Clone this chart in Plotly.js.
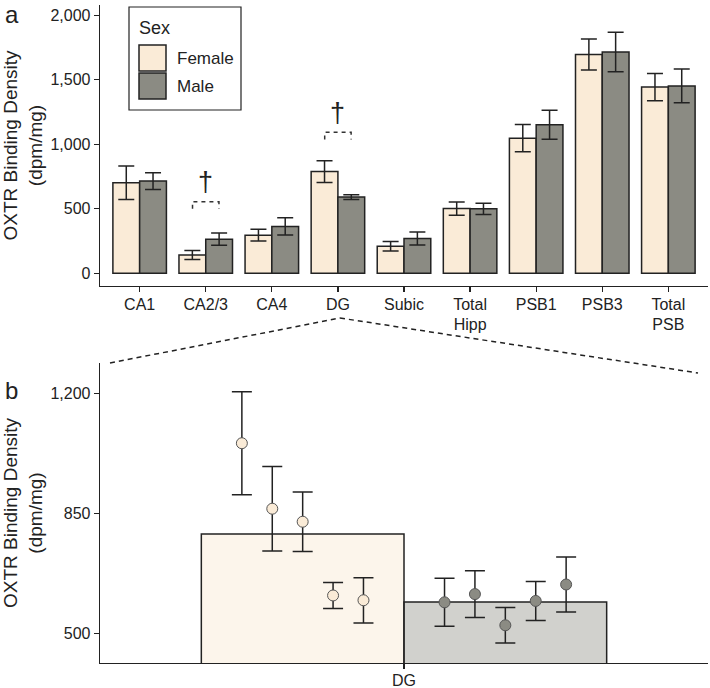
<!DOCTYPE html>
<html>
<head>
<meta charset="utf-8">
<script src="https://cdn.plot.ly/plotly-3.0.1.min.js"></script>
<style>html,body{margin:0;padding:0;background:#fff;}#chart{width:710px;height:688px;}</style>
</head>
<body>
<div id="chart"></div>
<script>
// ---- Data (panel a) ----
const regions = ['CA1', 'CA2/3', 'CA4', 'DG', 'Subic', 'Total<br>Hipp', 'PSB1', 'PSB3', 'Total<br>PSB'];
const femaleMean = [702, 143, 296, 789, 210, 502, 1048, 1696, 1444];
const femaleErr  = [130, 35, 46, 84, 37, 52, 106, 120, 106];
const maleMean   = [715, 265, 364, 591, 270, 500, 1152, 1715, 1453];
const maleErr    = [65, 48, 67, 18, 50, 43, 113, 153, 130];
const sigRegions = ['CA2/3', 'DG'];
const sigLevel   = [555, 1093];
const sigMark    = '†';

// ---- Data (panel b: DG individual animals) ----
const dgFemaleVals = [1054, 863, 825, 610, 596];
const dgFemaleErr  = [150, 123, 87, 38, 66];
const dgMaleVals   = [590, 614, 523, 594, 642];
const dgMaleErr    = [70, 68, 52, 57, 80];

const sexLabels = ['Female', 'Male'];
const femaleColor = '#FAEBD7';
const maleColor = '#8B8B83';
const ink = '#222222';
const FONT = 'Arial, "Liberation Sans", sans-serif';

const W = 710, H = 688;
const px = x => x / W;
const py = y => 1 - y / H;

const xIdx = regions.map((_, i) => i);
const dgIdx = regions.indexOf('DG');

const traces = [
  {
    type: 'bar', x: xIdx, y: femaleMean, name: sexLabels[0],
    marker: {color: femaleColor, line: {color: ink, width: 1.5}},
    error_y: {type: 'data', array: femaleErr, visible: true, color: ink, thickness: 1.5, width: 8},
    xaxis: 'x', yaxis: 'y', showlegend: false, hoverinfo: 'skip'
  },
  {
    type: 'bar', x: xIdx, y: maleMean, name: sexLabels[1],
    marker: {color: maleColor, line: {color: ink, width: 1.5}},
    error_y: {type: 'data', array: maleErr, visible: true, color: ink, thickness: 1.5, width: 8},
    xaxis: 'x', yaxis: 'y', showlegend: false, hoverinfo: 'skip'
  },
  // panel b bars (group means of DG)
  {
    type: 'bar', x: [-0.5], y: [femaleMean[dgIdx]], width: [1], base: 0,
    marker: {color: 'rgba(250,235,215,0.5)', line: {color: ink, width: 1.5}},
    xaxis: 'x2', yaxis: 'y2', showlegend: false, hoverinfo: 'skip'
  },
  {
    type: 'bar', x: [0.5], y: [maleMean[dgIdx]], width: [1], base: 0,
    marker: {color: 'rgba(139,139,131,0.4)', line: {color: ink, width: 1.5}},
    xaxis: 'x2', yaxis: 'y2', showlegend: false, hoverinfo: 'skip'
  },
  {
    type: 'scatter', mode: 'markers',
    x: dgFemaleVals.map((_, i) => -0.5 + (i - 2) * 0.15), y: dgFemaleVals,
    marker: {size: 11, color: femaleColor, line: {color: '#555', width: 1}},
    error_y: {type: 'data', array: dgFemaleErr, visible: true, color: ink, thickness: 1.5, width: 10},
    xaxis: 'x2', yaxis: 'y2', showlegend: false, hoverinfo: 'skip'
  },
  {
    type: 'scatter', mode: 'markers',
    x: dgMaleVals.map((_, i) => 0.5 + (i - 2) * 0.15), y: dgMaleVals,
    marker: {size: 11, color: maleColor, line: {color: '#555', width: 1}},
    error_y: {type: 'data', array: dgMaleErr, visible: true, color: ink, thickness: 1.5, width: 10},
    xaxis: 'x2', yaxis: 'y2', showlegend: false, hoverinfo: 'skip'
  }
];

const shapes = [];
const annotations = [];

// significance brackets
sigRegions.forEach((r, k) => {
  const c = regions.indexOf(r);
  const y = sigLevel[k];
  shapes.push({
    type: 'path', xref: 'x', yref: 'y',
    path: `M ${c - 0.2},${y - 55} L ${c - 0.2},${y} L ${c + 0.2},${y} L ${c + 0.2},${y - 55}`,
    line: {color: '#333', width: 1.5, dash: '4px,4px'}
  });
  annotations.push({
    xref: 'x', yref: 'y', x: c, y: y + 150, text: sigMark, showarrow: false,
    font: {family: FONT, size: 27, color: ink}
  });
});

// zoom connector lines
shapes.push({type: 'line', xref: 'paper', yref: 'paper', x0: px(110), y0: py(363), x1: px(340), y1: py(318),
  line: {color: ink, width: 1.5, dash: '5px,4px'}});
shapes.push({type: 'line', xref: 'paper', yref: 'paper', x0: px(340), y0: py(318), x1: px(698), y1: py(373),
  line: {color: ink, width: 1.5, dash: '5px,4px'}});

// legend (manual)
shapes.push({type: 'rect', xref: 'paper', yref: 'paper', x0: px(129), x1: px(241), y0: py(110), y1: py(7),
  line: {color: ink, width: 1.2}, fillcolor: 'white'});
shapes.push({type: 'rect', xref: 'paper', yref: 'paper', x0: px(139), x1: px(166), y0: py(71), y1: py(45),
  line: {color: ink, width: 1.5}, fillcolor: femaleColor});
shapes.push({type: 'rect', xref: 'paper', yref: 'paper', x0: px(139), x1: px(166), y0: py(99), y1: py(73),
  line: {color: ink, width: 1.5}, fillcolor: maleColor});
annotations.push({xref: 'paper', yref: 'paper', x: px(137), y: py(28), xanchor: 'left', yanchor: 'middle',
  text: 'Sex', showarrow: false, font: {family: FONT, size: 18, color: ink}});
annotations.push({xref: 'paper', yref: 'paper', x: px(175), y: py(58), xanchor: 'left', yanchor: 'middle',
  text: sexLabels[0], showarrow: false, font: {family: FONT, size: 17, color: ink}});
annotations.push({xref: 'paper', yref: 'paper', x: px(175), y: py(86), xanchor: 'left', yanchor: 'middle',
  text: sexLabels[1], showarrow: false, font: {family: FONT, size: 17, color: ink}});

// panel letters
annotations.push({xref: 'paper', yref: 'paper', x: px(3), y: py(14), xanchor: 'left', yanchor: 'middle',
  text: 'a', showarrow: false, font: {family: FONT, size: 24, color: ink}});
annotations.push({xref: 'paper', yref: 'paper', x: px(3), y: py(390), xanchor: 'left', yanchor: 'middle',
  text: 'b', showarrow: false, font: {family: FONT, size: 24, color: ink}});

const axisCommon = {
  showline: true, linecolor: ink, linewidth: 1.3, ticks: 'outside', ticklen: 5, tickwidth: 1.2,
  tickcolor: ink, showgrid: false, zeroline: false, tickfont: {family: FONT, size: 16, color: ink},
  fixedrange: true
};

const yTitle = {text: 'OXTR Binding Density<br>(dpm/mg)', font: {family: FONT, size: 19, color: ink}, standoff: 4};

const layout = {
  width: W, height: H,
  margin: {l: 0, r: 0, t: 0, b: 0},
  paper_bgcolor: 'white', plot_bgcolor: 'white',
  font: {family: FONT, color: ink},
  barmode: 'group', bargap: 0.19, bargroupgap: 0,
  showlegend: false,
  xaxis: Object.assign({}, axisCommon, {
    domain: [px(100), px(708)], range: [-0.6, 8.6], anchor: 'y',
    tickmode: 'array', tickvals: xIdx, ticktext: regions, ticklabelstandoff: -2
  }),
  yaxis: Object.assign({}, axisCommon, {
    domain: [py(286), py(5)], range: [-98, 2080], anchor: 'x',
    tickmode: 'array', tickvals: [0, 500, 1000, 1500, 2000], tickformat: ',',
    title: yTitle
  }),
  xaxis2: Object.assign({}, axisCommon, {
    domain: [px(100), px(708)], range: [-1.5, 1.5], anchor: 'y2',
    tickmode: 'array', tickvals: [0], ticktext: ['DG'], ticklabelstandoff: -3
  }),
  yaxis2: Object.assign({}, axisCommon, {
    domain: [py(663), py(363)], range: [413, 1288], anchor: 'x2',
    tickmode: 'array', tickvals: [500, 850, 1200], tickformat: ',',
    title: yTitle
  }),
  shapes: shapes,
  annotations: annotations
};

Plotly.newPlot('chart', traces, layout, {displayModeBar: false, staticPlot: true});
</script>
</body>
</html>
